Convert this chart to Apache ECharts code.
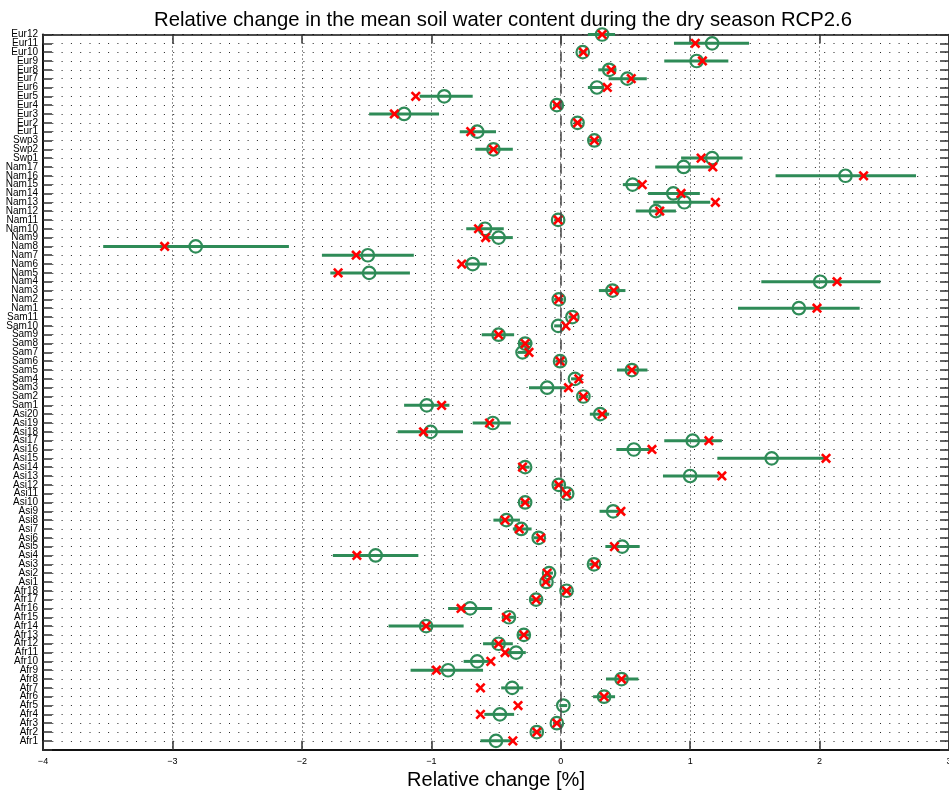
<!DOCTYPE html>
<html>
<head>
<meta charset="utf-8">
<script src="https://cdn.jsdelivr.net/npm/echarts@6/dist/echarts.min.js"></script>
<style>
  html, body { margin: 0; padding: 0; background: #fff; }
  #chart { width: 949px; height: 798px; }
</style>
</head>
<body>
<div id="chart"></div>
<script>
// Regions, listed bottom to top
const regions = [
  'Afr1','Afr2','Afr3','Afr4','Afr5','Afr6','Afr7','Afr8','Afr9','Afr10','Afr11','Afr12','Afr13','Afr14','Afr15','Afr16','Afr17','Afr18',
  'Asi1','Asi2','Asi3','Asi4','Asi5','Asi6','Asi7','Asi8','Asi9','Asi10','Asi11','Asi12','Asi13','Asi14','Asi15','Asi16','Asi17','Asi18','Asi19','Asi20',
  'Sam1','Sam2','Sam3','Sam4','Sam5','Sam6','Sam7','Sam8','Sam9','Sam10','Sam11',
  'Nam1','Nam2','Nam3','Nam4','Nam5','Nam6','Nam7','Nam8','Nam9','Nam10','Nam11','Nam12','Nam13','Nam14','Nam15','Nam16','Nam17',
  'Swp1','Swp2','Swp3',
  'Eur1','Eur2','Eur3','Eur4','Eur5','Eur6','Eur7','Eur8','Eur9','Eur10','Eur11','Eur12'
];

// Ensemble mean of the relative change [%]
const meanChange = [
  -0.50, -0.185, -0.03, -0.47, 0.02, 0.335, -0.375, 0.47, -0.87, -0.645, -0.345, -0.48, -0.285, -1.04, -0.40, -0.70, -0.19, 0.045,
  -0.11, -0.09, 0.257, -1.43, 0.475, -0.17, -0.305, -0.42, 0.405, -0.275, 0.05, -0.015, 1.00, -0.275, 1.63, 0.565, 1.02, -1.005, -0.525, 0.305,
  -1.035, 0.175, -0.105, 0.11, 0.55, -0.005, -0.295, -0.275, -0.48, -0.02, 0.09,
  1.84, -0.015, 0.40, 2.005, -1.48, -0.68, -1.49, -2.82, -0.48, -0.585, -0.02, 0.735, 0.955, 0.87, 0.555, 2.20, 0.95,
  1.17, -0.52, 0.26,
  -0.645, 0.13, -1.21, -0.03, -0.90, 0.28, 0.515, 0.375, 1.05, 0.17, 1.17, 0.32
];

// Reference-run relative change [%]
const refChange = [
  -0.37, -0.185, -0.03, -0.62, -0.33, 0.335, -0.62, 0.47, -0.96, -0.54, -0.43, -0.48, -0.285, -1.04, -0.42, -0.77, -0.19, 0.045,
  -0.115, -0.105, 0.265, -1.575, 0.415, -0.155, -0.32, -0.43, 0.465, -0.275, 0.045, -0.015, 1.245, -0.295, 2.05, 0.705, 1.145, -1.06, -0.55, 0.32,
  -0.92, 0.175, 0.06, 0.14, 0.55, -0.005, -0.245, -0.275, -0.48, 0.04, 0.10,
  1.98, -0.015, 0.41, 2.135, -1.72, -0.765, -1.58, -3.06, -0.58, -0.635, -0.02, 0.765, 1.195, 0.93, 0.63, 2.34, 1.175,
  1.085, -0.52, 0.26,
  -0.695, 0.13, -1.285, -0.03, -1.12, 0.36, 0.545, 0.39, 1.095, 0.175, 1.04, 0.32
];

// Lower and upper ends of the spread
const lowerBound = [
  -0.62, -0.22, -0.06, -0.59, -0.01, 0.25, -0.46, 0.35, -1.16, -0.75, -0.43, -0.60, -0.33, -1.33, -0.44, -0.87, -0.23, 0.01,
  -0.14, -0.12, 0.22, -1.76, 0.345, -0.21, -0.37, -0.52, 0.30, -0.31, 0.02, -0.05, 0.79, -0.31, 1.21, 0.43, 0.80, -1.26, -0.68, 0.225,
  -1.21, 0.14, -0.245, 0.08, 0.435, -0.04, -0.33, -0.33, -0.61, -0.05, 0.06,
  1.37, -0.05, 0.295, 1.55, -1.78, -0.74, -1.845, -3.535, -0.60, -0.73, -0.05, 0.58, 0.715, 0.675, 0.48, 1.66, 0.73,
  0.93, -0.66, 0.22,
  -0.78, 0.10, -1.48, -0.06, -1.09, 0.21, 0.37, 0.29, 0.80, 0.14, 0.875, 0.21
];
const upperBound = [
  -0.37, -0.15, 0.00, -0.36, 0.05, 0.42, -0.29, 0.60, -0.60, -0.54, -0.27, -0.37, -0.24, -0.75, -0.36, -0.53, -0.15, 0.08,
  -0.08, -0.06, 0.29, -1.10, 0.61, -0.14, -0.225, -0.315, 0.485, -0.24, 0.08, 0.02, 1.22, -0.24, 2.05, 0.69, 1.245, -0.755, -0.385, 0.375,
  -0.86, 0.21, 0.04, 0.14, 0.67, 0.03, -0.26, -0.22, -0.36, 0.01, 0.12,
  2.31, 0.02, 0.50, 2.47, -1.165, -0.57, -1.135, -2.10, -0.37, -0.44, 0.01, 0.89, 1.155, 1.075, 0.615, 2.745, 1.17,
  1.405, -0.37, 0.30,
  -0.50, 0.16, -0.94, 0.00, -0.68, 0.33, 0.665, 0.425, 1.295, 0.20, 1.455, 0.42
];

// Horizontal axis ticks
const xTicks = [-4, -3, -2, -1, 0, 1, 2, 3];

const GREEN = '#2e8b57';
const RED = '#ff0000';
const FONT = '"Liberation Sans", Arial, Helvetica, sans-serif';

const barData = regions.map((_, i) => [lowerBound[i], upperBound[i], i + 1]);
const meanData = regions.map((_, i) => [meanChange[i], i + 1]);
const refData = regions.map((_, i) => [refChange[i], i + 1]);

const fmtX = v => (v < 0 ? '\u2212' + Math.abs(v) : String(v));
// a hair above the last row, so the axis end carries an empty label of its own
const yTop = regions.length + 0.0001;

const chart = echarts.init(document.getElementById('chart'), null, { renderer: 'canvas' });

chart.setOption({
  animation: false,
  backgroundColor: '#fff',
  title: {
    text: 'Relative change in the mean soil water content during the dry season RCP2.6',
    left: 498,
    textAlign: 'center',
    top: 5,
    textStyle: { fontFamily: FONT, fontSize: 20.3, fontWeight: 'normal', color: '#000' }
  },
  grid: { left: 43, right: 0, top: 34.5, bottom: 48.3, containLabel: false, outerBoundsMode: 'none' },
  xAxis: [
    {
      type: 'value',
      min: xTicks[0],
      max: xTicks[xTicks.length - 1],
      interval: 1,
      position: 'bottom',
      name: 'Relative change [%]',
      nameLocation: 'middle',
      nameGap: 21,
      nameTextStyle: { fontFamily: FONT, fontSize: 20, color: '#000', verticalAlign: 'top' },
      axisLine: { show: true, onZero: false, lineStyle: { color: '#111', width: 2 } },
      axisTick: { show: true, inside: true, length: 9, lineStyle: { color: '#333', width: 1.5 } },
      axisLabel: { fontFamily: FONT, fontSize: 9, color: '#000', margin: 7, formatter: fmtX,
                   showMinLabel: true, showMaxLabel: true, hideOverlap: false },
      splitLine: { show: true, lineStyle: { color: '#222', width: 1, type: [1, 3] } }
    },
    {
      type: 'value',
      min: xTicks[0],
      max: xTicks[xTicks.length - 1],
      interval: 1,
      position: 'top',
      axisLine: { show: true, onZero: false, lineStyle: { color: '#111', width: 1.5 } },
      axisTick: { show: true, inside: true, length: 9, lineStyle: { color: '#333', width: 1.5 } },
      axisLabel: { show: false },
      splitLine: { show: false }
    }
  ],
  yAxis: [
    {
      type: 'value',
      min: 0,
      max: yTop,
      interval: 1,
      position: 'left',
      axisLine: { show: true, onZero: false, lineStyle: { color: '#111', width: 2 } },
      axisTick: { show: true, inside: true, length: 9, lineStyle: { color: '#333', width: 1.5 } },
      axisLabel: {
        fontFamily: FONT, fontSize: 10, color: '#000', margin: 5, hideOverlap: false,
        formatter: v => (Number.isInteger(v) ? (regions[v - 1] || '') : '')
      },
      splitLine: { show: true, lineStyle: { color: '#222', width: 1, type: [1, 8.3] } }
    },
    {
      type: 'value',
      min: 0,
      max: yTop,
      interval: 1,
      position: 'right',
      axisLine: { show: true, onZero: false, lineStyle: { color: '#111', width: 1.5 } },
      axisTick: { show: true, inside: true, length: 9, lineStyle: { color: '#333', width: 1.5 } },
      axisLabel: { show: false },
      splitLine: { show: false }
    }
  ],
  series: [
    {
      // spread of each region, drawn as a horizontal bar
      type: 'custom',
      name: 'spread',
      z: 2,
      silent: true,
      encode: { x: [0, 1], y: 2 },
      data: barData,
      renderItem: (params, api) => {
        const a = api.coord([api.value(0), api.value(2)]);
        const b = api.coord([api.value(1), api.value(2)]);
        return {
          type: 'line',
          shape: { x1: a[0], y1: a[1], x2: b[0], y2: b[1] },
          style: { stroke: GREEN, lineWidth: 3 }
        };
      },
      markLine: {
        silent: true,
        symbol: ['none', 'none'],
        label: { show: false },
        lineStyle: { color: '#444', width: 1.5, type: [10, 6] },
        data: [{ xAxis: 0 }]
      }
    },
    {
      type: 'scatter',
      name: 'mean',
      z: 3,
      silent: true,
      symbol: 'circle',
      symbolSize: 12.5,
      itemStyle: { color: 'rgba(0,0,0,0)', borderColor: GREEN, borderWidth: 2.2, opacity: 1 },
      data: meanData
    },
    {
      type: 'custom',
      name: 'reference',
      z: 4,
      silent: true,
      encode: { x: 0, y: 1 },
      data: refData,
      renderItem: (params, api) => {
        const p = api.coord([api.value(0), api.value(1)]);
        const h = 4.2;
        return {
          type: 'group',
          children: [
            { type: 'line', shape: { x1: p[0] - h, y1: p[1] - h, x2: p[0] + h, y2: p[1] + h },
              style: { stroke: RED, lineWidth: 2.6 } },
            { type: 'line', shape: { x1: p[0] - h, y1: p[1] + h, x2: p[0] + h, y2: p[1] - h },
              style: { stroke: RED, lineWidth: 2.6 } }
          ]
        };
      }
    }
  ]
});
</script>
</body>
</html>
